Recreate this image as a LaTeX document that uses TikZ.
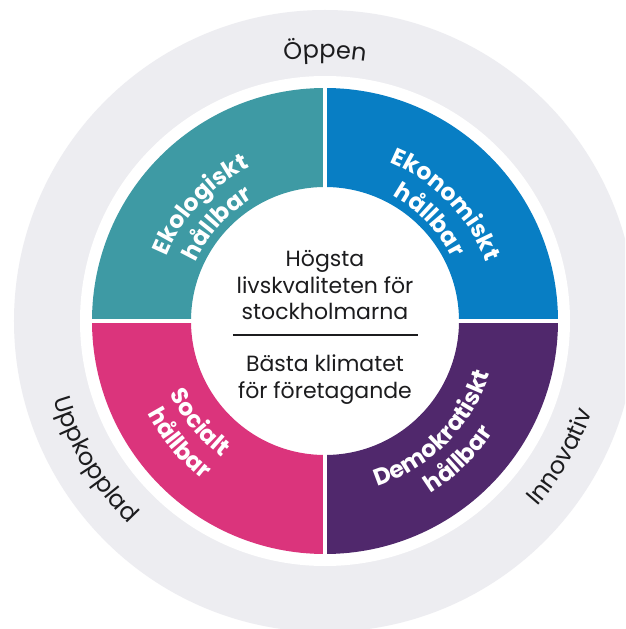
\documentclass[tikz,border=0pt]{standalone}
\usepackage{fontspec}
\setmainfont{Poppins}
\usepackage{tikz}
\usetikzlibrary{positioning,decorations.text}
\definecolor{ekoteal}{RGB}{62,154,164}
\definecolor{ekoblue}{RGB}{8,126,196}
\definecolor{socpink}{RGB}{219,52,124}
\definecolor{dempurple}{RGB}{80,40,108}
\definecolor{ringgray}{RGB}{237,237,241}
\definecolor{inkblack}{RGB}{28,28,30}
\newcommand{\qfont}{\bfseries\fontsize{23.5}{23.5}\selectfont}
\newcommand{\rfont}{\fontsize{24}{24}\selectfont}

\begin{document}
\begin{tikzpicture}[
    x=1pt, y=1pt,
    quarter/.style={fill=#1},
    qlabel/.style={decorate, decoration={text along path, text align=center, text color=white, text={|\qfont|#1}}},
    rlabel/.style={decorate, decoration={text along path, text align=center, text color=inkblack, text={|\rfont|#1}}},
    centertext/.style={align=center, inner sep=0pt, text=inkblack, font=\fontsize{22}{26.5}\selectfont},
    sepline/.style={draw=inkblack, line width=2pt}
]
    % Frame and ring
    \fill[white] (-325,-308) rectangle (300,321);
    \clip (-325,-308) rectangle (300,321);
    \fill[ringgray] (0,0) circle[radius=311];
    \fill[white] (0,0) circle[radius=245];

    % Quarters
    \foreach \ang/\col in {0/ekoblue, 90/ekoteal, 180/socpink, 270/dempurple}
        \fill[quarter=\col] (\ang:134) arc[start angle=\ang, delta angle=90, radius=134]
            -- (\ang+90:233) arc[start angle=\ang+90, delta angle=-90, radius=233] -- cycle;
    \draw[white, line width=4pt] (-240,0) -- (240,0);
    \draw[white, line width=4pt] (0,-240) -- (0,240);

    % Quarter labels
    \path[qlabel={Ekologiskt}] (177:171) arc[start angle=177, end angle=97, radius=171];
    \path[qlabel={hållbar}] (178:142) arc[start angle=178, end angle=98, radius=142];
    \path[qlabel={Ekonomiskt}] (84:171) arc[start angle=84, end angle=4, radius=171];
    \path[qlabel={hållbar}] (84:142) arc[start angle=84, end angle=4, radius=142];
    \path[qlabel={Socialt}] (179:171) arc[start angle=179, end angle=259, radius=171];
    \path[qlabel={hållbar}] (180:200) arc[start angle=180, end angle=260, radius=200];
    \path[qlabel={Demokratiskt}] (275:173) arc[start angle=275, end angle=355, radius=173];
    \path[qlabel={hållbar}] (274:202) arc[start angle=274, end angle=354, radius=202];

    % Ring labels
    \path[rlabel={Öppen}] (125:263) arc[start angle=125, end angle=55, radius=263];
    \path[rlabel={Uppkopplad}] (176:282) arc[start angle=176, end angle=246, radius=282];
    \path[rlabel={Innovativ}] (295:282) arc[start angle=295, end angle=365, radius=282];

    % Centre
    \coordinate (sepL) at (-92,-14);
    \coordinate (sepR) at (93,-14);
    \node[centertext, anchor=south] (goal) at (0,1) {Högsta\\livskvaliteten för\\stockholmarna};
    \node[centertext, anchor=north] (climate) at (0,-34) {Bästa klimatet\\för företagande};
    \draw[sepline] (sepL) -- (sepR);
\end{tikzpicture}
\end{document}
